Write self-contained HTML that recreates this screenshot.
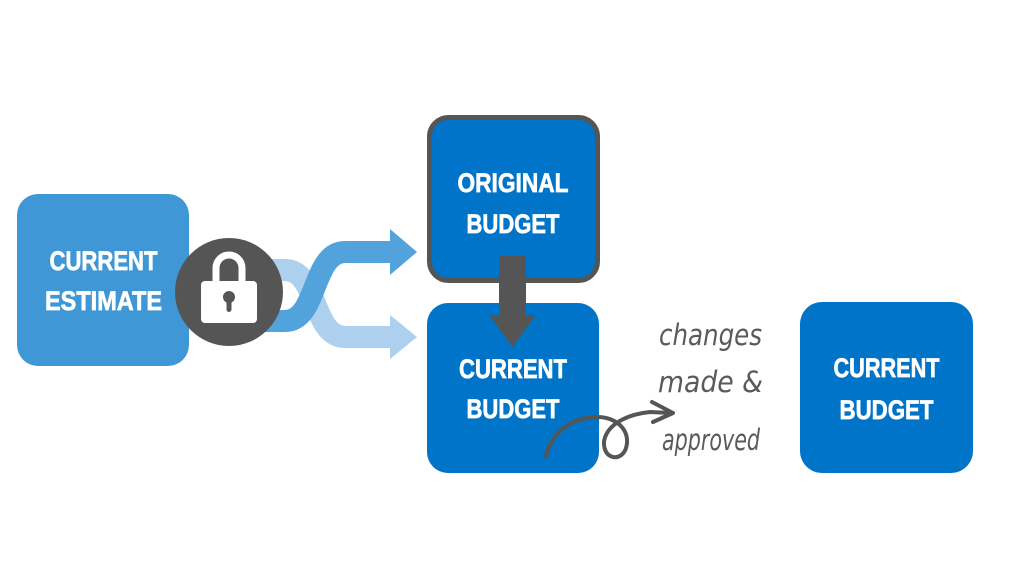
<!DOCTYPE html>
<html>
<head>
<meta charset="utf-8">
<style>
  html, body { margin: 0; padding: 0; background: #ffffff; }
  body { width: 1023px; height: 575px; overflow: hidden; }
  svg { display: block; }
  .box { font-family: "Liberation Sans Narrow", "Liberation Sans", sans-serif; font-weight: bold; font-size: 27px; fill: #ffffff; stroke: #ffffff; stroke-width: 0.7px; }
  .hand { font-family: "DejaVu Sans", "Liberation Sans", sans-serif; font-weight: 200; font-style: italic; font-size: 29px; fill: #5a5a5a; }
</style>
</head>
<body>
<svg width="1023" height="575" viewBox="0 0 1023 575" xmlns="http://www.w3.org/2000/svg">
  <rect x="0" y="0" width="1023" height="575" fill="#ffffff"/>

  <!-- Current Estimate box -->
  <rect x="17" y="194" width="172" height="172" rx="21" ry="21" fill="#4097d5"/>
  <text class="box" x="103.5" y="270" text-anchor="middle" textLength="108" lengthAdjust="spacingAndGlyphs">CURRENT</text>
  <text class="box" x="103.5" y="310" text-anchor="middle" textLength="117" lengthAdjust="spacingAndGlyphs">ESTIMATE</text>

  <!-- shuffle arrows -->
  <path d="M240,270 L285,270 C318,270 312,337 345,337 L392,337" fill="none" stroke="#acd0ee" stroke-width="22"/>
  <polygon points="390,315 417,337 390,359" fill="#acd0ee"/>
  <path d="M240,321 L285,321 C318,321 312,252 345,252 L392,252" fill="none" stroke="#52a2dc" stroke-width="22"/>
  <polygon points="390,229 417,252 390,275" fill="#52a2dc"/>

  <!-- lock circle -->
  <circle cx="229" cy="292" r="54" fill="#555555"/>
  <path d="M216,282 L216,268 A13,13 0 0 1 242,268 L242,282" fill="none" stroke="#ffffff" stroke-width="7"/>
  <rect x="201" y="281" width="56" height="42" rx="4" ry="4" fill="#ffffff"/>
  <circle cx="229" cy="297" r="6" fill="#555555"/>
  <rect x="226.5" y="297" width="5" height="15" rx="2.5" fill="#555555"/>

  <!-- Original Budget box -->
  <rect x="429.5" y="117.5" width="168" height="163" rx="19" ry="19" fill="#0074c8" stroke="#555555" stroke-width="5"/>
  <text class="box" x="513" y="192" text-anchor="middle" textLength="111" lengthAdjust="spacingAndGlyphs">ORIGINAL</text>
  <text class="box" x="513" y="233" text-anchor="middle" textLength="93" lengthAdjust="spacingAndGlyphs">BUDGET</text>

  <!-- Current Budget (middle) -->
  <rect x="427" y="303" width="172" height="170" rx="21" ry="21" fill="#0074c8"/>
  <text class="box" x="513" y="378" text-anchor="middle" textLength="108" lengthAdjust="spacingAndGlyphs">CURRENT</text>
  <text class="box" x="513" y="418" text-anchor="middle" textLength="93" lengthAdjust="spacingAndGlyphs">BUDGET</text>

  <!-- down arrow -->
  <rect x="499" y="256" width="27" height="60" fill="#555555"/>
  <polygon points="489,315 536,315 512.5,347" fill="#555555"/>

  <!-- Current Budget (right) -->
  <rect x="800" y="302" width="173" height="171" rx="22" ry="22" fill="#0074c8"/>
  <text class="box" x="886.5" y="377" text-anchor="middle" textLength="106" lengthAdjust="spacingAndGlyphs">CURRENT</text>
  <text class="box" x="886.5" y="419" text-anchor="middle" textLength="94" lengthAdjust="spacingAndGlyphs">BUDGET</text>

  <!-- curly arrow -->
  <path d="M546,456 C552,430 575,417 597,417 C615,417 628,428 627,443 C626,455 618,458 613,457 C604,455 602,443 606,435 C612,422 630,414 650,412 L672,413" fill="none" stroke="#555555" stroke-width="4" stroke-linecap="round" stroke-linejoin="round"/>
  <path d="M652,402 L673,413 L653,422" fill="none" stroke="#555555" stroke-width="4" stroke-linecap="round" stroke-linejoin="round"/>

  <!-- handwritten label -->
  <text class="hand" x="659" y="345" textLength="103" lengthAdjust="spacingAndGlyphs">changes</text>
  <text class="hand" x="658" y="392" textLength="105" lengthAdjust="spacingAndGlyphs">made &amp;</text>
  <text class="hand" x="662" y="450" textLength="98" lengthAdjust="spacingAndGlyphs">approved</text>
</svg>
</body>
</html>
